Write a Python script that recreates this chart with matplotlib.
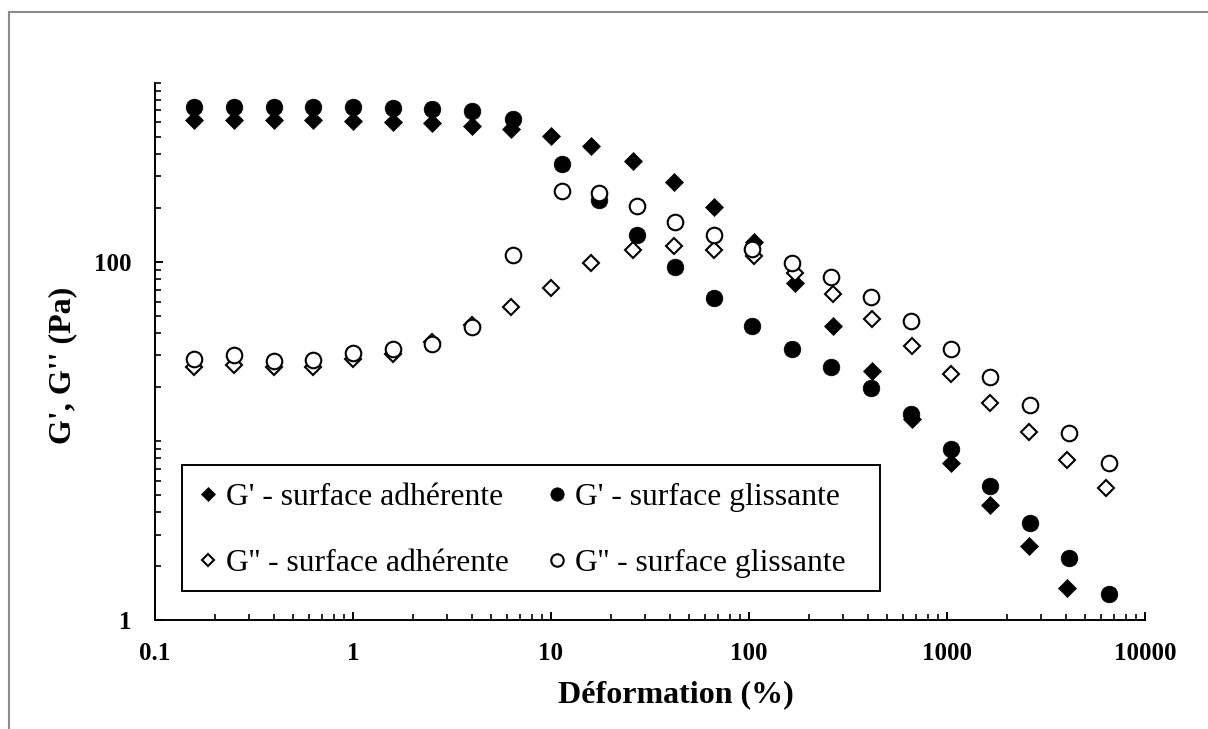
import matplotlib
matplotlib.use("Agg")
import matplotlib.pyplot as plt
from matplotlib.ticker import LogLocator, FixedLocator, FixedFormatter, NullFormatter
from matplotlib.patches import Rectangle

plt.rcParams['font.family'] = ['Liberation Serif', 'DejaVu Serif']

# ---------------- data ----------------
x_adh = [0.158, 0.251, 0.398, 0.631, 1.0, 1.585, 2.51, 3.98, 6.31, 10.0, 15.9,
         26.0, 41.8, 66.7, 106, 170, 267, 419, 662, 1042, 1645, 2588, 4055, 6340]
gp_adh = [619, 619, 619, 619, 615, 605, 598, 575, 549, 506, 445,
          365, 280, 201, 129, 76.4, 43.9, 24.5, 13.3, 7.57, 4.37, 2.58, 1.50]
gpp_adh = [25.8, 26.4, 25.8, 25.8, 28.7, 30.6, 35.5, 44.5, 55.8, 71.6, 98,
           116, 122, 117, 108, 86.9, 66.5, 48.0, 34.0, 23.5, 16.3, 11.2, 7.80, 5.46]

x_gli = [0.158, 0.251, 0.398, 0.631, 1.0, 1.585, 2.51, 3.98, 6.4, 11.4, 17.4,
         27.3, 42.4, 66.7, 104, 164, 258, 411, 655, 1045, 1655, 2617, 4150, 6546]
gp_gli = [735, 735, 735, 735, 729, 725, 713, 698, 625, 353, 221,
          142, 93.1, 62.7, 43.7, 32.8, 25.8, 19.8, 14.2, 8.96, 5.58, 3.50, 2.22, 1.40]
gpp_gli = [28.5, 30.0, 28.0, 28.2, 30.8, 32.4, 34.6, 43.0, 109, 250, 241,
           205, 167, 142, 118, 98.7, 81.8, 63.7, 46.6, 32.8, 22.8, 15.8, 11.0, 7.53]

labels = ["G' - surface adhérente", "G'' - surface adhérente",
          "G' - surface glissante", "G'' - surface glissante"]
x_ticks = [0.1, 1, 10, 100, 1000, 10000]
x_ticklabels = ["0.1", "1", "10", "100", "1000", "10000"]
y_ticks = [1, 100]
y_ticklabels = ["1", "100"]

W, H = 1208, 729
fig = plt.figure(figsize=(W / 100, H / 100), dpi=100)
ax = fig.add_axes([155 / W, (H - 620) / H, (1145 - 155) / W, (620 - 82.7) / H])

h1, = ax.plot(x_adh[:len(gp_adh)], gp_adh, linestyle='none', marker='D', ms=8.8,
              mfc='black', mec='black', mew=0.5, zorder=3)
h3, = ax.plot(x_gli, gp_gli, linestyle='none', marker='o', ms=12,
              mfc='black', mec='black', mew=0.5, zorder=4)
h2, = ax.plot(x_adh, gpp_adh, linestyle='none', marker='D', ms=8.0,
              mfc='white', mec='black', mew=1.5, zorder=5)
h4, = ax.plot(x_gli, gpp_gli, linestyle='none', marker='o', ms=11.2,
              mfc='white', mec='black', mew=1.5, zorder=6)

ax.set_xscale('log')
ax.set_yscale('log')
ax.set_xlim(0.1, 10000)
ax.set_ylim(1, 1000)

ax.xaxis.set_major_locator(FixedLocator(x_ticks))
ax.xaxis.set_major_formatter(FixedFormatter(x_ticklabels))
ax.xaxis.set_minor_locator(LogLocator(base=10, subs=[2, 3, 4, 5, 6, 7, 8, 9]))
ax.xaxis.set_minor_formatter(NullFormatter())

ax.yaxis.set_major_locator(FixedLocator(y_ticks))
ax.yaxis.set_major_formatter(FixedFormatter(y_ticklabels))
ax.yaxis.set_minor_locator(LogLocator(base=10, subs=[1, 2, 3, 4, 5, 6, 7, 8, 9]))
ax.yaxis.set_minor_formatter(NullFormatter())

for s in ['top', 'right']:
    ax.spines[s].set_visible(False)
for s in ['left', 'bottom']:
    ax.spines[s].set_linewidth(1.4)

ax.tick_params(which='major', direction='in', length=6, width=1.4)
ax.tick_params(which='minor', direction='in', length=4, width=1.2)
ax.tick_params(axis='x', which='major', pad=15.5, labelsize=18)
ax.tick_params(axis='y', which='major', pad=17, labelsize=18)
for lab in ax.get_xticklabels() + ax.get_yticklabels():
    lab.set_fontweight('bold')

fig.text(676 / W, 1 - 695 / H, "Déformation (%)", ha='center', va='center',
         fontsize=23, fontweight='bold')
fig.text(63 / W, 1 - 365 / H, "G', G'' (Pa)", ha='center', va='center',
         rotation=90, fontsize=23, fontweight='bold')

leg = ax.legend([h1, h2, h3, h4], labels, ncol=2, loc='upper left',
                bbox_to_anchor=(181.7 / W, 1 - 469 / H), bbox_transform=fig.transFigure,
                fontsize=22.8, frameon=False,
                borderpad=0.45, labelspacing=1.14, handlelength=0.75,
                handletextpad=0.2, columnspacing=1.15, markerscale=0.8,
                borderaxespad=0)

fig.patches.append(Rectangle((181.7 / W, 1 - 591 / H), (880 - 181.7) / W, (591 - 465) / H,
                             transform=fig.transFigure, fill=False,
                             edgecolor='black', linewidth=1.4))

fig.patches.append(Rectangle((8.5 / W, -0.1), 1.2, 1 - 12 / H + 0.1,
                             transform=fig.transFigure, fill=False,
                             edgecolor='#8c8c8c', linewidth=1.5))

fig.savefig("out.png", dpi=100)
